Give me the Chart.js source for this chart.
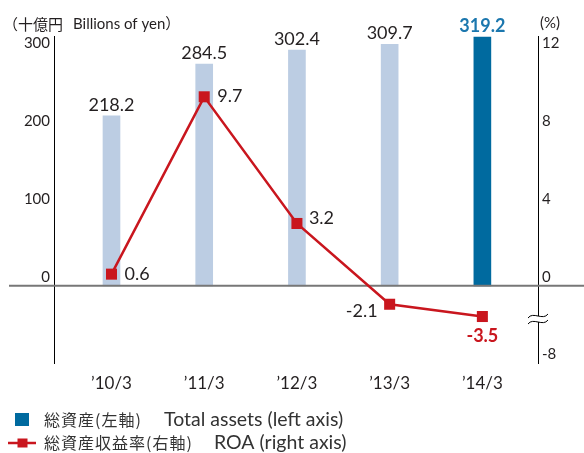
<!DOCTYPE html>
<html>
<head>
<meta charset="utf-8">
<script src="https://cdn.jsdelivr.net/npm/chart.js@4.4.0/dist/chart.umd.min.js"></script>
<style>
  body { margin: 0; background: #fff; }
  #wrap { width: 584px; height: 453px; position: relative; }
</style>
</head>
<body>
<div id="wrap"><canvas id="assetsChart"></canvas></div>
<script>
// values
const categories = ["’10/3", "’11/3", "’12/3", "’13/3", "’14/3"];
const totalAssets = [218.2, 284.5, 302.4, 309.7, 319.2];
const roa = [0.6, 9.7, 3.2, -2.1, -3.5];
const leftTicks = [0, 100, 200, 300];
const rightTicks = [0, 4, 8, 12];
const rightBottomLabel = "-8";

// the right axis is broken below zero, negatives drawn compressed
const breakFactor = 0.45;
const roaPlot = roa.map(v => v < 0 ? v * breakFactor : v);

const fontFamily = "Lato, 'Noto Sans CJK JP', sans-serif";
const jpFamily = "'Noto Sans CJK JP', sans-serif";
const textColor = '#231f20';
const lightBar = '#bccde3';
const darkBar = '#006a9f';
const red = '#c9161e';
const last = totalAssets.length - 1;

Chart.defaults.font.family = fontFamily;
Chart.defaults.color = textColor;

// where each ROA label sits relative to its point
const roaLabelPos = [
  {dx: 13, dy: 0, align: 'left'},
  {dx: 13, dy: -1, align: 'left'},
  {dx: 12, dy: -5, align: 'left'},
  {dx: -12, dy: 7, align: 'right'},
  {dx: 0, dy: 20, align: 'center'}
];

const decor = {
  id: 'decor',
  afterDatasetDraw(chart, args) {
    if (args.index !== 0) return;
    const c = chart.ctx;
    const y0 = chart.scales.y.getPixelForValue(0);
    c.save();
    c.strokeStyle = '#777';
    c.lineWidth = 2;
    c.beginPath();
    c.moveTo(9, y0);
    c.lineTo(chart.width, y0);
    c.stroke();
    c.restore();
  },
  afterDraw(chart) {
    const c = chart.ctx;
    c.save();

    // bar values
    const bars = chart.getDatasetMeta(0).data;
    c.textAlign = 'center';
    c.textBaseline = 'alphabetic';
    bars.forEach((b, i) => {
      if (i === last) {
        c.font = "bold 18px " + fontFamily;
        c.fillStyle = '#1b77ae';
      } else {
        c.font = "18px " + fontFamily;
        c.fillStyle = textColor;
      }
      c.fillText(totalAssets[i].toFixed(1), b.x, b.y - 5);
    });

    // ROA values
    const pts = chart.getDatasetMeta(1).data;
    c.textBaseline = 'middle';
    pts.forEach((p, i) => {
      const pos = roaLabelPos[i];
      if (i === last) {
        c.font = "bold 18px " + fontFamily;
        c.fillStyle = red;
      } else {
        c.font = "18px " + fontFamily;
        c.fillStyle = textColor;
      }
      c.textAlign = pos.align;
      c.fillText(roa[i].toFixed(1), p.x + pos.dx, p.y + pos.dy);
    });

    // axis break on the right axis
    const ax = chart.chartArea.right;
    const by = 319;
    c.fillStyle = '#fff';
    c.fillRect(ax - 3, by - 3, 6, 6);
    c.strokeStyle = '#000';
    c.lineWidth = 1;
    [-3, 3].forEach(off => {
      c.beginPath();
      c.moveTo(ax - 10, by + off + 2);
      c.bezierCurveTo(ax - 5, by + off - 5, ax + 5, by + off + 5, ax + 10, by + off - 2);
      c.stroke();
    });

    // unit titles
    c.fillStyle = textColor;
    c.textAlign = 'left';
    c.font = "15px " + jpFamily;
    c.fillText("（十億円", 3, 24);
    c.font = "15px " + fontFamily;
    c.fillText("Billions of yen）", 73, 24);
    c.fillText("(%)", 540, 23);

    // legend
    c.fillStyle = darkBar;
    c.fillRect(15, 413, 14, 13);
    c.strokeStyle = red;
    c.lineWidth = 2.5;
    c.beginPath();
    c.moveTo(8, 443);
    c.lineTo(36, 443);
    c.stroke();
    c.fillStyle = red;
    c.fillRect(17.5, 438.5, 10, 9);

    c.fillStyle = '#333';
    c.font = "16px " + jpFamily;
    c.letterSpacing = '1px';
    c.fillText("総資産(左軸)", 44, 420);
    c.fillText("総資産収益率(右軸)", 44, 443);
    c.letterSpacing = '0px';
    c.font = "19.5px " + fontFamily;
    c.fillText("Total assets (left axis)", 164, 420);
    c.fillText("ROA (right axis)", 214, 443);

    c.restore();
  }
};

const chartData = {
  datasets: [{
    type: 'bar',
    data: totalAssets.map((v, i) => ({x: i, y: v})),
    backgroundColor: totalAssets.map((v, i) => i === last ? darkBar : lightBar),
    barThickness: 17,
    xAxisID: 'x',
    yAxisID: 'y',
    order: 2
  }, {
    type: 'line',
    data: roaPlot.map((v, i) => ({x: i, y: v})),
    borderColor: red,
    borderWidth: 2.5,
    pointStyle: 'rect',
    pointRadius: 7.8,
    pointBackgroundColor: red,
    pointBorderWidth: 0,
    xAxisID: 'x',
    yAxisID: 'y1',
    order: 1
  }]
};

const chartOptions = {
  responsive: true,
  maintainAspectRatio: false,
  animation: false,
  layout: { padding: { top: 36, left: 0, right: 0, bottom: 50 } },
  scales: {
    x: {
      type: 'linear',
      offset: false,
      min: -0.62,
      max: 4.6,
      grid: { display: false, drawTicks: false },
      border: { display: false },
      afterBuildTicks: s => { s.ticks = categories.map((c, i) => ({value: i})); },
      afterFit: s => { s.height = 40; },
      ticks: {
        callback: v => categories[v],
        font: { size: 17 },
        padding: 10,
        autoSkip: false,
        maxRotation: 0
      }
    },
    y: {
      position: 'left',
      min: -99,
      max: 320.5,
      grid: { display: false, drawTicks: false },
      border: { display: true, color: '#000', width: 1 },
      afterBuildTicks: s => { s.ticks = leftTicks.map(v => ({value: v})); },
      afterFit: s => { s.width = 54; },
      ticks: { font: { size: 15 }, padding: 4, labelOffset: -9, autoSkip: false }
    },
    y1: {
      position: 'right',
      min: -99 / 25,
      max: 320.5 / 25,
      grid: { display: false, drawTicks: false },
      border: { display: true, color: '#000', width: 1 },
      afterBuildTicks: s => {
        s.ticks = [{value: s.min}].concat(rightTicks.map(v => ({value: v})));
      },
      afterFit: s => { s.width = 46; },
      ticks: {
        callback: v => v < 0 ? rightBottomLabel : v,
        font: { size: 15 },
        padding: 4,
        labelOffset: -9,
        autoSkip: false
      }
    }
  },
  plugins: {
    legend: { display: false },
    tooltip: { enabled: false }
  }
};

new Chart(document.getElementById("assetsChart"), {
  data: chartData,
  options: chartOptions,
  plugins: [decor]
});
</script>
</body>
</html>
